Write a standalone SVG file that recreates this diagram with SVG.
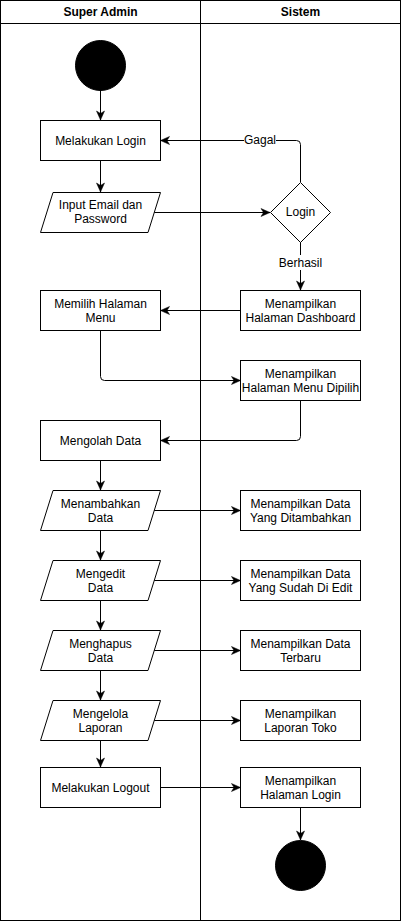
<svg xmlns="http://www.w3.org/2000/svg" width="401" height="922" viewBox="0 0 401 922">
<style>
.shape{fill:#fff;stroke:#000;stroke-width:1}
.edge{fill:none;stroke:#000;stroke-width:1}
text{font-family:"Liberation Sans",Arial,sans-serif;font-size:12px;fill:#000;text-anchor:middle}
.hdr{font-weight:bold}
.dot{fill:#000;stroke:#000}
</style>
<defs>
<marker id="arr" markerUnits="userSpaceOnUse" markerWidth="12" markerHeight="12" viewBox="-10 -6 12 12" refX="0" refY="0" orient="auto">
<path d="M0,0 L-9,-4 L-6.5,0 L-9,4 Z" fill="#000" stroke="#000" stroke-width="0.5"/>
</marker>
</defs>
<rect width="401" height="922" fill="#fff"/>
<g id="lanes">
<rect class="shape" x="0.5" y="0.5" width="400" height="920"/>
<line class="edge" x1="0.5" y1="23.5" x2="400.5" y2="23.5"/>
<line class="edge" x1="200.5" y1="0.5" x2="200.5" y2="920.5"/>
<text class="hdr" x="100.5" y="16">Super Admin</text>
<text class="hdr" x="300.5" y="16">Sistem</text>
</g>
<g id="connectors">
<path class="edge" d="M100.5,90 L100.5,120" marker-end="url(#arr)"/>
<path class="edge" d="M100.5,160 L100.5,192" marker-end="url(#arr)"/>
<path class="edge" d="M154,212.5 L270,212.5" marker-end="url(#arr)"/>
<path class="edge" d="M300.5,182 L300.5,144.5 Q300.5,140.5 296.5,140.5 L160.5,140.5" marker-end="url(#arr)"/>
<path class="edge" d="M300.5,242 L300.5,290" marker-end="url(#arr)"/>
<path class="edge" d="M240.5,310.5 L160.5,310.5" marker-end="url(#arr)"/>
<path class="edge" d="M100.5,330 L100.5,376.5 Q100.5,380.5 104.5,380.5 L240.5,380.5" marker-end="url(#arr)"/>
<path class="edge" d="M300.5,400 L300.5,436.5 Q300.5,440.5 296.5,440.5 L160.5,440.5" marker-end="url(#arr)"/>
<path class="edge" d="M100.5,460 L100.5,490" marker-end="url(#arr)"/>
<path class="edge" d="M154,510.5 L240.5,510.5" marker-end="url(#arr)"/>
<path class="edge" d="M100.5,530 L100.5,560" marker-end="url(#arr)"/>
<path class="edge" d="M154,580.5 L240.5,580.5" marker-end="url(#arr)"/>
<path class="edge" d="M100.5,600 L100.5,630" marker-end="url(#arr)"/>
<path class="edge" d="M154,650.5 L240.5,650.5" marker-end="url(#arr)"/>
<path class="edge" d="M100.5,670 L100.5,700" marker-end="url(#arr)"/>
<path class="edge" d="M154,720.5 L240.5,720.5" marker-end="url(#arr)"/>
<path class="edge" d="M100.5,740 L100.5,767" marker-end="url(#arr)"/>
<path class="edge" d="M160.5,787.5 L240.5,787.5" marker-end="url(#arr)"/>
<path class="edge" d="M300.5,807 L300.5,840" marker-end="url(#arr)"/>
<rect x="244" y="132" width="32" height="16" fill="#fff"/>
<text x="260" y="144">Gagal</text>
<rect x="279" y="255" width="44" height="15" fill="#fff"/>
<text x="300.5" y="267">Berhasil</text>
</g>
<g id="start"><circle class="dot" cx="100.5" cy="65.5" r="25"/></g>
<g id="login">
<rect class="shape" x="40.5" y="120.5" width="120" height="40"/>
<text x="100.5" y="145">Melakukan Login</text>
</g>
<g id="input">
<polygon class="shape" points="53,192.5 160.5,192.5 148,232.5 40.5,232.5"/>
<text x="100.5" y="209">Input Email dan</text>
<text x="100.5" y="223">Password</text>
</g>
<g id="decision">
<polygon class="shape" points="300.5,182.5 330.5,212.5 300.5,242.5 270.5,212.5"/>
<text x="300.5" y="216">Login</text>
</g>
<g id="dashboard">
<rect class="shape" x="240.5" y="290.5" width="120" height="40"/>
<text x="300.5" y="307.5">Menampilkan</text>
<text x="300.5" y="321.5">Halaman Dashboard</text>
</g>
<g id="memilih">
<rect class="shape" x="40.5" y="290.5" width="120" height="40"/>
<text x="100.5" y="307.5">Memilih Halaman</text>
<text x="100.5" y="321.5">Menu</text>
</g>
<g id="menudipilih">
<rect class="shape" x="240.5" y="360.5" width="120" height="40"/>
<text x="300.5" y="377.5">Menampilkan</text>
<text x="300.5" y="391.5">Halaman Menu Dipilih</text>
</g>
<g id="mengolah">
<rect class="shape" x="40.5" y="420.5" width="120" height="40"/>
<text x="100.5" y="444.5">Mengolah Data</text>
</g>
<g id="menambahkan">
<polygon class="shape" points="53,490.5 160.5,490.5 148,530.5 40.5,530.5"/>
<text x="100.5" y="507.5">Menambahkan</text>
<text x="100.5" y="521.5">Data</text>
</g>
<g id="ditambahkan">
<rect class="shape" x="240.5" y="490.5" width="120" height="40"/>
<text x="300.5" y="507.5">Menampilkan Data</text>
<text x="300.5" y="521.5">Yang Ditambahkan</text>
</g>
<g id="mengedit">
<polygon class="shape" points="53,560.5 160.5,560.5 148,600.5 40.5,600.5"/>
<text x="100.5" y="577.5">Mengedit</text>
<text x="100.5" y="591.5">Data</text>
</g>
<g id="diedit">
<rect class="shape" x="240.5" y="560.5" width="120" height="40"/>
<text x="300.5" y="577.5">Menampilkan Data</text>
<text x="300.5" y="591.5">Yang Sudah Di Edit</text>
</g>
<g id="menghapus">
<polygon class="shape" points="53,630.5 160.5,630.5 148,670.5 40.5,670.5"/>
<text x="100.5" y="647.5">Menghapus</text>
<text x="100.5" y="661.5">Data</text>
</g>
<g id="terbaru">
<rect class="shape" x="240.5" y="630.5" width="120" height="40"/>
<text x="300.5" y="647.5">Menampilkan Data</text>
<text x="300.5" y="661.5">Terbaru</text>
</g>
<g id="mengelola">
<polygon class="shape" points="53,700.5 160.5,700.5 148,740.5 40.5,740.5"/>
<text x="100.5" y="717.5">Mengelola</text>
<text x="100.5" y="731.5">Laporan</text>
</g>
<g id="laporan">
<rect class="shape" x="240.5" y="700.5" width="120" height="40"/>
<text x="300.5" y="717.5">Menampilkan</text>
<text x="300.5" y="731.5">Laporan Toko</text>
</g>
<g id="logout">
<rect class="shape" x="40.5" y="767.5" width="120" height="40"/>
<text x="100.5" y="791.5">Melakukan Logout</text>
</g>
<g id="halamanlogin">
<rect class="shape" x="240.5" y="767.5" width="120" height="40"/>
<text x="300.5" y="784.5">Menampilkan</text>
<text x="300.5" y="798.5">Halaman Login</text>
</g>
<g id="end"><circle class="dot" cx="300.5" cy="865.5" r="25"/></g>
</svg>
